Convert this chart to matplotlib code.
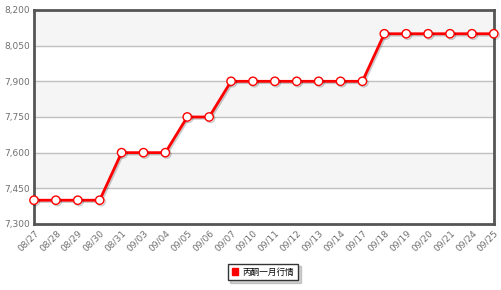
import matplotlib
matplotlib.use('Agg')
import matplotlib.pyplot as plt
import matplotlib.patheffects as pe
from matplotlib.ticker import FuncFormatter

plt.rcParams['font.family'] = ['DejaVu Sans', 'Noto Sans CJK SC']

# price series
dates = ['08/27', '08/28', '08/29', '08/30', '08/31', '09/03', '09/04', '09/05',
         '09/06', '09/07', '09/10', '09/11', '09/12', '09/13', '09/14', '09/17',
         '09/18', '09/19', '09/20', '09/21', '09/24', '09/25']
prices = [7400, 7400, 7400, 7400, 7600, 7600, 7600, 7750,
          7750, 7900, 7900, 7900, 7900, 7900, 7900, 7900,
          8100, 8100, 8100, 8100, 8100, 8100]
series_name = '丙酮一月行情'
y_ticks = [7300, 7450, 7600, 7750, 7900, 8050, 8200]

fig = plt.figure(figsize=(5.02, 2.90), dpi=100)
ax = fig.add_axes([0.0677, 0.2276, 0.916, 0.738])

x = list(range(len(dates)))

# alternating bands
for i in range(len(y_ticks) - 1):
    if i % 2 == 1:
        ax.axhspan(y_ticks[i], y_ticks[i + 1], color='#f5f5f5', zorder=0)
for t in y_ticks[1:-1]:
    ax.axhline(t, color='#c0c0c0', lw=1, zorder=1)

ax.plot(x, prices, color='red', lw=2, marker='o', markersize=6,
        markerfacecolor='white', markeredgecolor='red', markeredgewidth=1,
        label=series_name, zorder=3, clip_on=False,
        path_effects=[pe.SimpleLineShadow(offset=(1, -1), alpha=0.2), pe.Normal()])

ax.set_xlim(0, len(dates) - 1)
ax.set_ylim(7300, 8200)
ax.set_yticks(y_ticks)
ax.yaxis.set_major_formatter(FuncFormatter(lambda v, p: f'{int(v):,}'))
ax.set_xticks(x)
ax.set_xticklabels(dates, rotation=45, ha='right', rotation_mode='anchor')
ax.tick_params(axis='both', length=0, labelsize=6.5, colors='#707070', pad=3)

for s in ax.spines.values():
    s.set_color('#555555')
    s.set_linewidth(2)

leg = fig.legend(handles=[plt.Rectangle((0, 0), 1, 1, color='red')],
                 labels=[series_name], loc='center', bbox_to_anchor=(0.524, 0.062),
                 prop={'family': ['Noto Sans CJK SC'], 'size': 6.2},
                 fancybox=False, shadow={'ox': 2, 'oy': -2, 'alpha': 0.25},
                 edgecolor='#333333',
                 handlelength=0.8, handleheight=0.8, handletextpad=0.5,
                 borderpad=0.45)
leg.get_frame().set_linewidth(1)

fig.savefig('out.png', dpi=100)
